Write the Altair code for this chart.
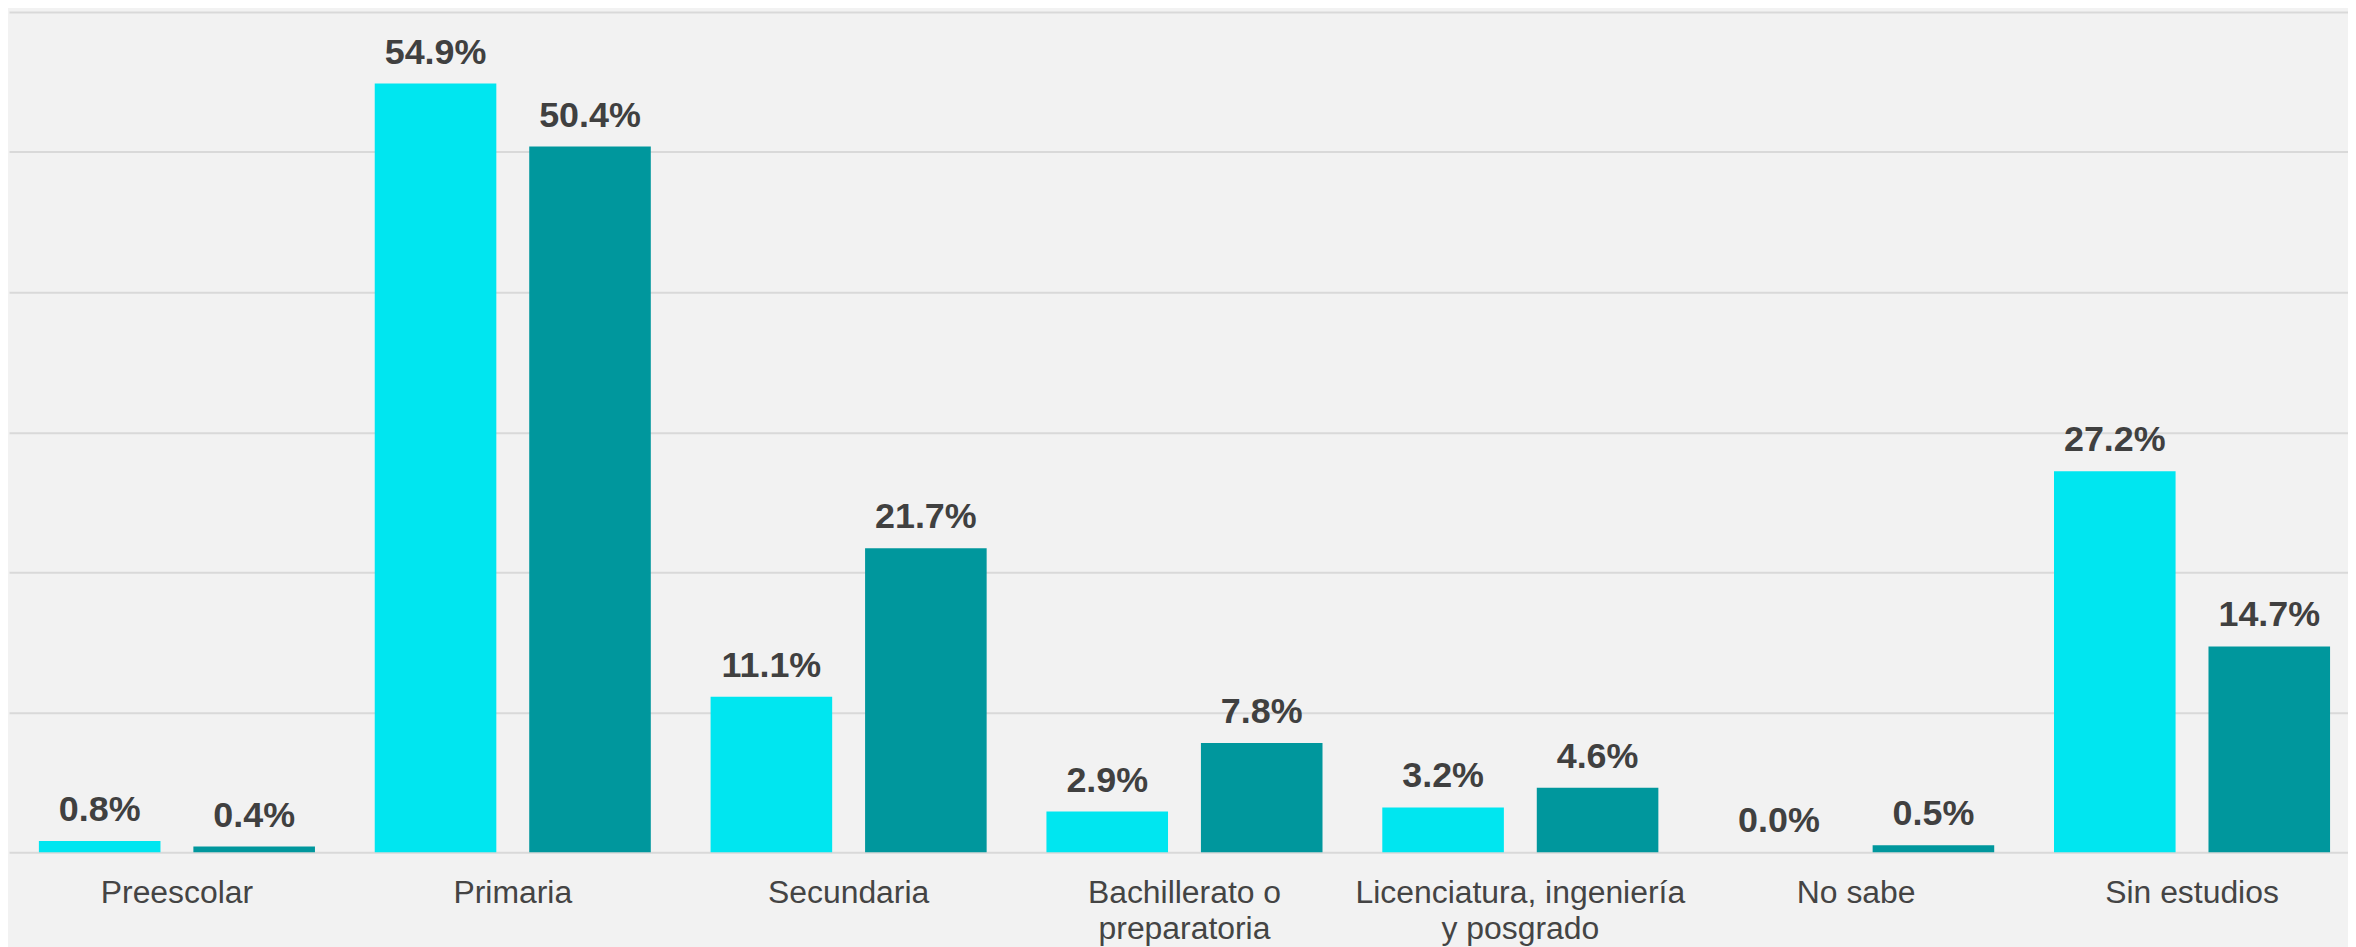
import altair as alt
import pandas as pd

categories = ["Preescolar", "Primaria", "Secundaria", "Bachillerato o|preparatoria",
              "Licenciatura, ingeniería|y posgrado", "No sabe", "Sin estudios"]
series_names = ["Serie A", "Serie B"]
serie_a = [0.8, 54.9, 11.1, 2.9, 3.2, 0.0, 27.2]
serie_b = [0.4, 50.4, 21.7, 7.8, 4.6, 0.5, 14.7]
colors = ["#00E6F0", "#00979D"]

rows = []
for i, c in enumerate(categories):
    rows.append({"cat": c, "serie": series_names[0], "value": serie_a[i]})
    rows.append({"cat": c, "serie": series_names[1], "value": serie_b[i]})
df = pd.DataFrame(rows)

FONT = "Liberation Sans"

x = alt.X("cat:N", sort=categories, title=None,
          scale=alt.Scale(range=[1, 2360], paddingInner=0, paddingOuter=0),
          axis=alt.Axis(labelAngle=0, domain=False, ticks=False, labelFont=FONT,
                        labelFontSize=32, labelColor="#444444", labelPadding=25,
                        labelLineHeight=37, labelLimit=0,
                        labelExpr="split(datum.label, '|')"))
xoff = alt.XOffset("serie:N", sort=series_names,
                   scale=alt.Scale(paddingInner=0.213, paddingOuter=0.1935))
y = alt.Y("value:Q", title=None,
          scale=alt.Scale(domain=[0, 60], nice=False),
          axis=alt.Axis(values=[0, 10, 20, 30, 40, 50, 60], labels=False, domain=False,
                        ticks=False, grid=True, gridColor="#D9D9D9", gridWidth=2))
color = alt.Color("serie:N", sort=series_names,
                  scale=alt.Scale(domain=series_names, range=colors), legend=None)

bars = alt.Chart(df).mark_bar().encode(x=x, xOffset=xoff, y=y, color=color)

labels = alt.Chart(df).transform_calculate(
    lbl="format(datum.value, '.1f') + '%'"
).mark_text(font=FONT, fontSize=36, fontWeight="bold", color="#404040",
            baseline="alphabetic", dy=-20).encode(
    x=x, xOffset=xoff, y=y, text="lbl:N")

chart = alt.layer(bars, labels).properties(
    width=2348, height=843,
    autosize=alt.AutoSizeParams(type="none"),
    padding={"left": 0, "top": 2.5, "right": 0, "bottom": 93},
    background="#F2F2F2",
).configure_view(stroke=None)

chart.save("out.html", embed_options={"renderer": "svg", "actions": False})
